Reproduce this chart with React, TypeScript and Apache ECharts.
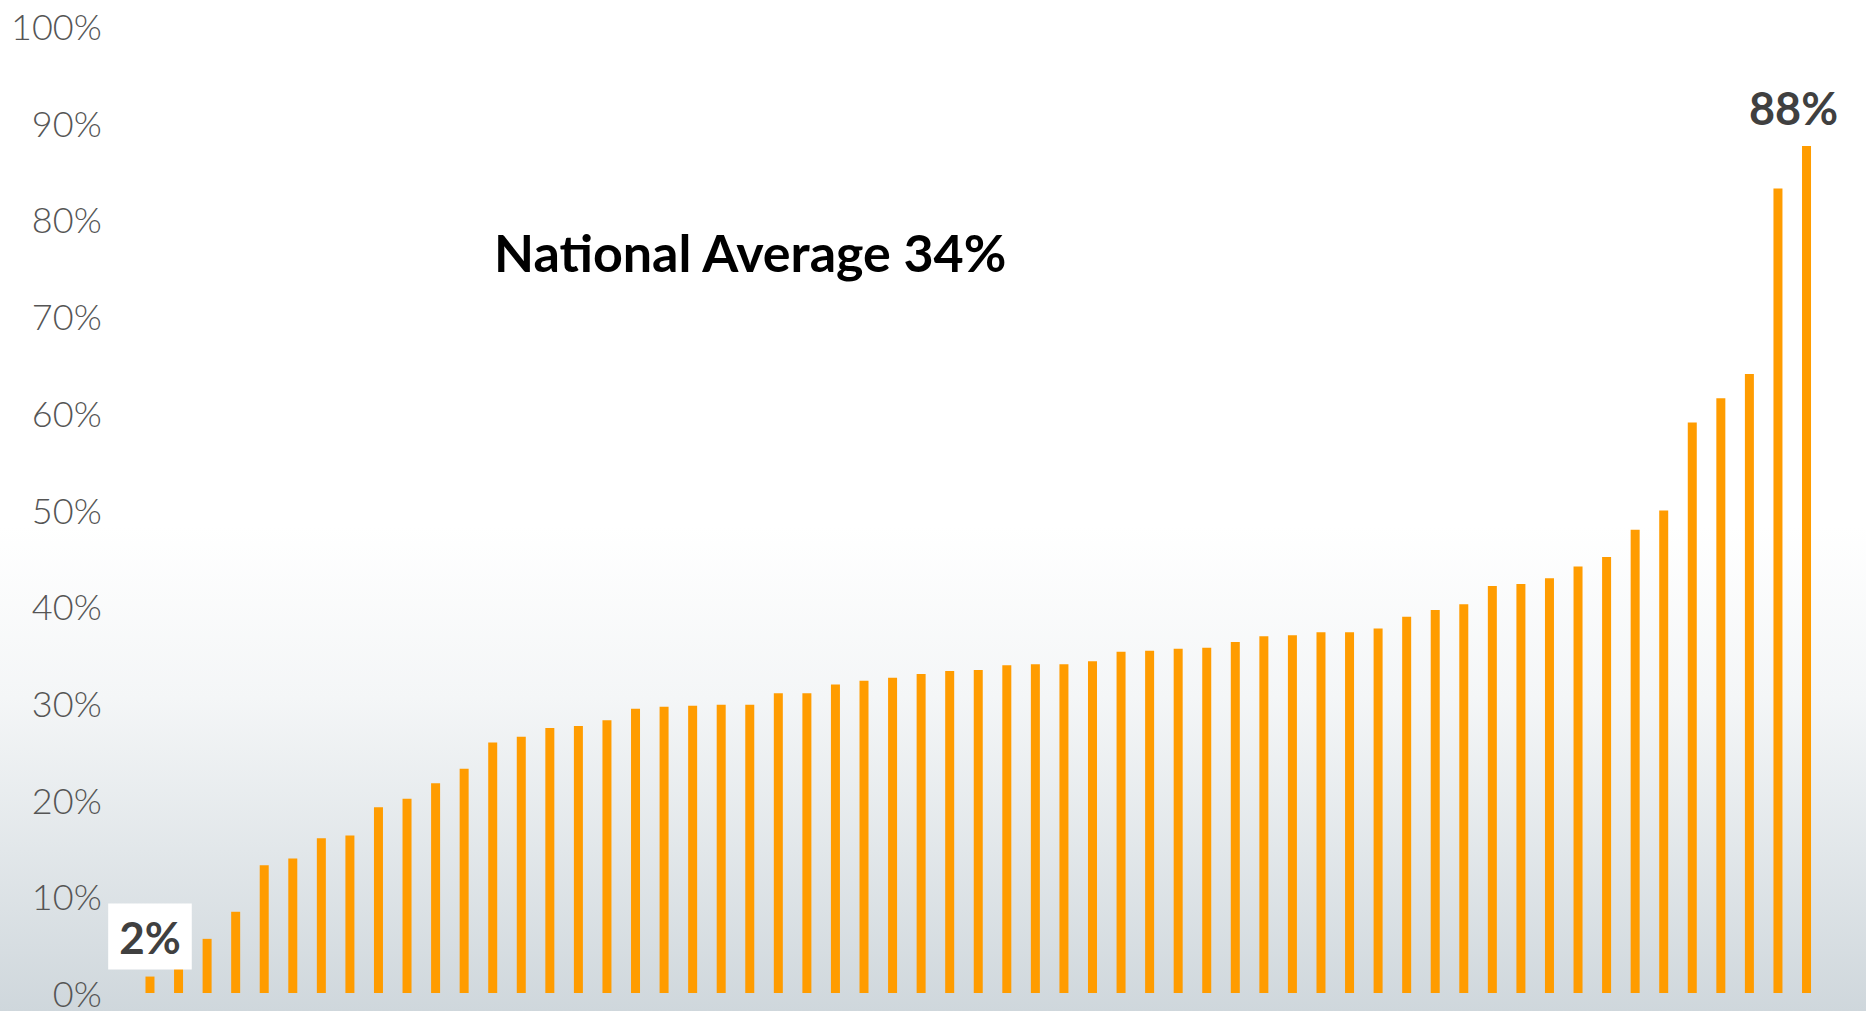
import React, { useEffect, useRef } from "react";
import * as echarts from "echarts";

const values: number[] = [
  1.7, 2.5, 5.6, 8.4, 13.2, 13.9, 16.0, 16.3, 19.2, 20.1,
  21.7, 23.2, 25.9, 26.5, 27.4, 27.6, 28.2, 29.4, 29.6, 29.7,
  29.8, 29.8, 31.0, 31.0, 31.9, 32.3, 32.6, 33.0, 33.3, 33.4,
  33.9, 34.0, 34.0, 34.3, 35.3, 35.4, 35.6, 35.7, 36.3, 36.9,
  37.0, 37.3, 37.3, 37.7, 38.9, 39.6, 40.2, 42.1, 42.3, 42.9,
  44.1, 45.1, 47.9, 49.9, 59.0, 61.5, 64.0, 83.2, 87.6,
];
const categories: string[] = values.map((_, i) => String(i + 1));
const yTicks = { min: 0, max: 100, interval: 10 };
const lowLabel = "2%";
const highLabel = "88%";
const averageText = "National Average 34%";

const FONT = "Lato, 'Open Sans', sans-serif";

export default function App() {
  const ref = useRef<HTMLDivElement>(null);
  useEffect(() => {
    if (!ref.current) return;
    const chart = echarts.init(ref.current, undefined, { renderer: "svg" });
    const last = values.length - 1;
    const data = values.map((v, i) => {
      if (i === 0) {
        return {
          value: v,
          label: {
            show: true,
            position: "top",
            distance: 7,
            formatter: lowLabel,
            fontFamily: FONT,
            fontWeight: 700,
            fontSize: 44,
            lineHeight: 44,
            color: "#404040",
            backgroundColor: "#ffffff",
            padding: [11, 11],
          },
        };
      }
      if (i === last) {
        return {
          value: v,
          label: {
            show: true,
            position: "top",
            distance: 15,
            offset: [-13, 0],
            formatter: highLabel,
            fontFamily: FONT,
            fontWeight: 700,
            fontSize: 45,
            lineHeight: 45,
            color: "#404040",
          },
        };
      }
      return v;
    });
    chart.setOption({
      animation: false,
      backgroundColor: "transparent",
      grid: { left: 135.7, right: 45.2, top: 26, bottom: 16, containLabel: false },
      xAxis: {
        type: "category",
        data: categories,
        axisLine: { show: false },
        axisTick: { show: false },
        axisLabel: { show: false },
        splitLine: { show: false },
      },
      yAxis: {
        type: "value",
        min: yTicks.min,
        max: yTicks.max,
        interval: yTicks.interval,
        axisLine: { show: false },
        axisTick: { show: false },
        splitLine: { show: false },
        axisLabel: {
          formatter: "{value}%",
          fontFamily: FONT,
          fontWeight: 300,
          fontSize: 36,
          lineHeight: 34,
          color: "#555555",
          margin: 34,
        },
      },
      graphic: [
        {
          type: "text",
          left: 494,
          top: 226,
          style: {
            text: averageText,
            fontFamily: FONT,
            fontWeight: 700,
            fontSize: 52,
            fill: "#000000",
          },
        },
      ],
      series: [
        {
          type: "bar",
          data,
          barWidth: 9,
          itemStyle: { color: "#FF9C00" },
        },
      ],
    });
    return () => chart.dispose();
  }, []);
  return (
    <div
      style={{
        position: "fixed",
        left: 0,
        top: 0,
        width: 1866,
        height: 1011,
        background:
          "linear-gradient(to bottom, #ffffff 0%, #ffffff 52%, #f4f6f7 69%, #e2e7ea 84%, #cfd7dc 100%)",
      }}
    >
      <div ref={ref} style={{ width: 1866, height: 1011 }} />
    </div>
  );
}
